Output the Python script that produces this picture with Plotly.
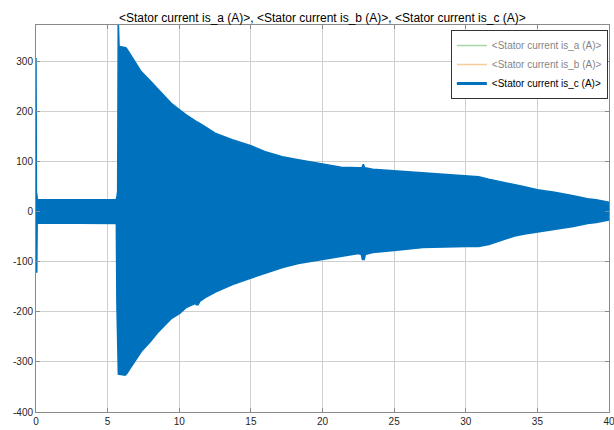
import plotly.graph_objects as go

# Envelope of the fast-oscillating phase-c current
time_s = [0, 0.03, 0.1, 5.6, 5.66, 5.7, 5.74, 5.8, 6.2, 6.3, 6.53, 6.99, 7.34, 7.92,
          8.5, 9.07, 9.42, 10, 10.46, 11.15, 11.25, 11.4, 11.85, 12.5, 13.7, 15,
          16, 17.2, 18.3, 20, 20.6, 21.3, 22.5, 22.75, 22.85, 22.95, 23.5, 25,
          27, 30, 30.9, 31.6, 32.3, 33.4, 34.1, 35, 36.2, 37.5, 38.5, 39.1, 40]
ic_upper = [307, 40, 24, 24, 32, 40, 385, 330, 328, 327, 317, 295, 280, 263,
            245, 227, 217, 204, 194, 181, 179, 177, 169, 157, 144, 132,
            120, 110, 104, 96, 92, 89, 88, 88, 95, 88, 85, 82,
            77, 72, 70, 65, 61, 54, 50, 44, 39, 32, 26, 24, 19]
ic_lower = [-122, -22, -21, -21, -22, -185, -250, -323, -325, -322, -312, -292, -277, -259,
            -239, -222, -212, -202, -190, -181, -186, -178, -169, -159, -144, -131,
            -121, -110, -102, -94, -90, -88, -82, -84, -96, -84, -80, -76,
            -70, -68, -68, -64, -57, -47, -43, -39, -34, -28, -22, -20, -15]

# Phases a and b are switched off in the scope (legend entries only)
hidden_a = [None] * len(time_s)
hidden_b = [None] * len(time_s)

names = ["&lt;Stator current is_a (A)&gt;",
         "&lt;Stator current is_b (A)&gt;",
         "&lt;Stator current is_c (A)&gt;"]
title_text = "&lt;Stator current is_a (A)&gt;, &lt;Stator current is_b (A)&gt;, &lt;Stator current is_c (A)&gt;"

x_ticks = [0, 5, 10, 15, 20, 25, 30, 35, 40]
y_ticks = [-400, -300, -200, -100, 0, 100, 200, 300]
y_ticktext = ["-400", "-300", "-200", "-100", "0", "100", "200", "300"]

blue = "#0072BD"
fig = go.Figure()
fig.add_trace(go.Scatter(x=time_s, y=hidden_a, mode="lines", name=names[0],
                         line=dict(color="#4DB04A", width=1.5), visible="legendonly"))
fig.add_trace(go.Scatter(x=time_s, y=hidden_b, mode="lines", name=names[1],
                         line=dict(color="#EB9935", width=1.5), visible="legendonly"))
fig.add_trace(go.Scatter(x=time_s, y=ic_lower, mode="lines", name=names[2],
                         line=dict(color=blue, width=3), legendgroup="c"))
fig.add_trace(go.Scatter(x=time_s, y=ic_upper, mode="lines", name=names[2],
                         line=dict(color=blue, width=1.5), fill="tonexty",
                         fillcolor=blue, showlegend=False, legendgroup="c"))

axis_common = dict(showline=True, linecolor="#8a8a8a", linewidth=1, mirror="ticks",
                   ticks="inside", ticklen=4, tickcolor="#8a8a8a",
                   showgrid=True, gridcolor="#cfcfcf", gridwidth=1, zeroline=False,
                   tickfont=dict(size=10, color="#262626"), automargin=False,
                   ticklabeloverflow="allow")

fig.update_layout(
    width=614, height=430,
    margin=dict(l=36, r=5, t=25, b=18),
    paper_bgcolor="white", plot_bgcolor="white",
    font=dict(family="Liberation Sans, Arial, sans-serif", color="#262626"),
    title=dict(text=title_text, x=0.525, xanchor="center", y=0.958, yanchor="middle",
               font=dict(size=12, color="#000000")),
    xaxis=dict(range=[0, 40], tickvals=x_ticks, **axis_common),
    yaxis=dict(range=[-400, 373], tickvals=y_ticks, ticktext=y_ticktext, **axis_common),
    legend=dict(x=0.998, y=0.987, xanchor="right", yanchor="top",
                bgcolor="white", bordercolor="#333333", borderwidth=1,
                font=dict(size=10, color="#000000"), tracegroupgap=0),
    showlegend=True,
)

fig.write_html("out.html")
